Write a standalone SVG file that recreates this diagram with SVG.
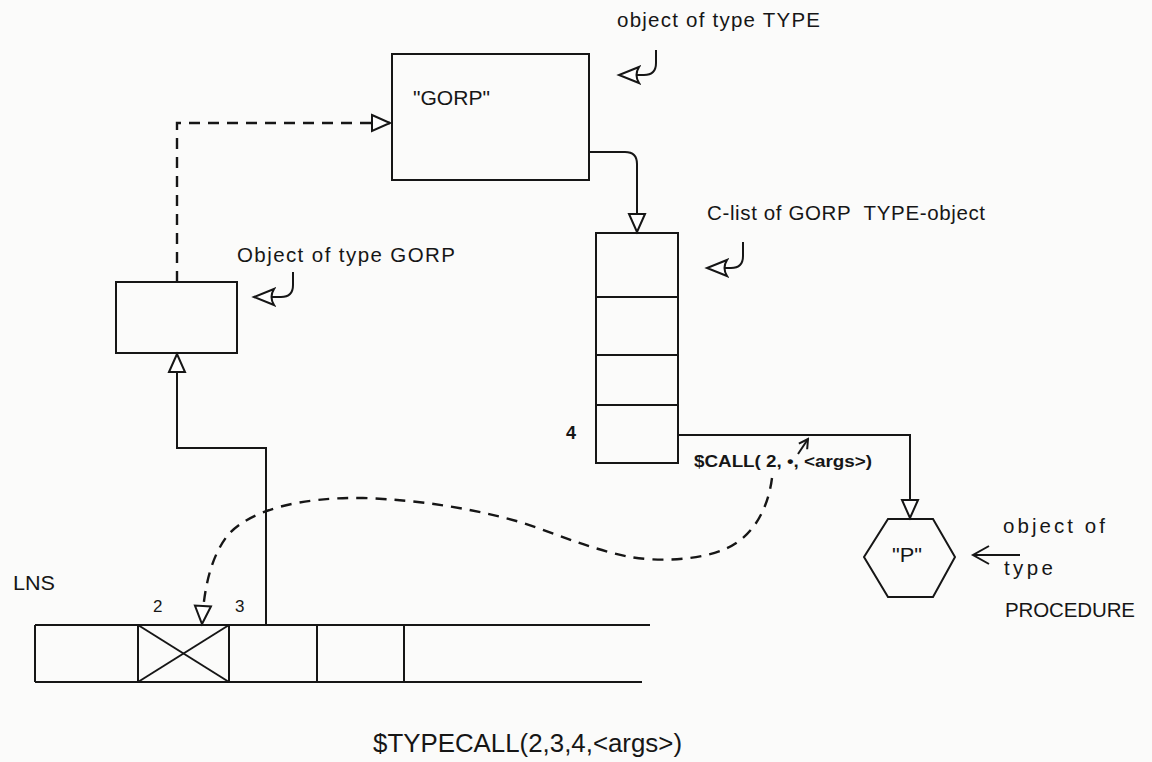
<svg xmlns="http://www.w3.org/2000/svg" width="1152" height="762" viewBox="0 0 1152 762">
  <style>
    .bg { fill: #fbfbfa; }
    .box { fill: none; stroke: #161616; stroke-width: 2; }
    .ln { fill: none; stroke: #161616; stroke-width: 2; }
    .dash { fill: none; stroke: #161616; stroke-width: 2.4; stroke-dasharray: 11 8; }
    .t { font-family: "Liberation Sans", Arial, sans-serif; fill: #161616; font-size: 20.5px; }
    .tb { font-family: "Liberation Sans", Arial, sans-serif; fill: #161616; font-size: 16px; font-weight: bold; }
  </style>
  <defs>
    <marker id="tri" markerUnits="userSpaceOnUse" markerWidth="24" markerHeight="24" viewBox="0 0 24 24" refX="20" refY="10" orient="auto">
      <path d="M2,2 L20,10 L2,18 Z" fill="#ffffff" stroke="#161616" stroke-width="2" stroke-dasharray="none" stroke-linejoin="miter"/>
    </marker>
    <marker id="trismall" markerUnits="userSpaceOnUse" markerWidth="26" markerHeight="26" viewBox="0 0 26 26" refX="22" refY="11" orient="auto">
      <path d="M2,3 L22,11 L2,19 Q7,11 2,3 Z" fill="#ffffff" stroke="#161616" stroke-width="2" stroke-dasharray="none"/>
    </marker>
    <marker id="vee" markerUnits="userSpaceOnUse" markerWidth="24" markerHeight="24" viewBox="0 0 24 24" refX="20" refY="12" orient="auto">
      <path d="M4,3 L20,12 L4,21" fill="none" stroke="#161616" stroke-width="2" stroke-dasharray="none"/>
    </marker>
    <marker id="veesmall" markerUnits="userSpaceOnUse" markerWidth="14" markerHeight="14" viewBox="0 0 14 14" refX="12" refY="7" orient="auto">
      <path d="M3,2 L12,7 L3,12" fill="none" stroke="#161616" stroke-width="2"/>
    </marker>
  </defs>

  <rect class="bg" x="0" y="0" width="1152" height="762"/>

  <!-- Object of type TYPE -->
  <g id="type-object">
    <rect class="box" x="392" y="54" width="197" height="126"/>
    <text class="t" x="413" y="105" textLength="77" lengthAdjust="spacingAndGlyphs" style="font-size:21px">"GORP"</text>
  </g>

  <!-- Object of type GORP -->
  <g id="gorp-object">
    <rect class="box" x="116" y="282" width="121" height="71"/>
  </g>

  <!-- C-list of GORP TYPE-object -->
  <g id="clist">
    <rect class="box" x="596" y="233" width="82" height="230"/>
    <line class="ln" x1="596" y1="297" x2="678" y2="297"/>
    <line class="ln" x1="596" y1="355" x2="678" y2="355"/>
    <line class="ln" x1="596" y1="405" x2="678" y2="405"/>
    <text class="tb" x="566" y="439" style="font-size:18px">4</text>
  </g>

  <!-- Procedure object -->
  <g id="proc">
    <polygon class="box" points="888,519 933,519 955,557 933,597 888,597 864,557"/>
    <text class="t" x="907" y="562" text-anchor="middle" textLength="30" lengthAdjust="spacingAndGlyphs">"P"</text>
  </g>

  <!-- LNS array -->
  <g id="lns">
    <text class="t" x="13" y="590" textLength="42" lengthAdjust="spacingAndGlyphs">LNS</text>
    <line class="ln" x1="35" y1="625" x2="650" y2="625"/>
    <line class="ln" x1="35" y1="682" x2="642" y2="682"/>
    <line class="ln" x1="35" y1="625" x2="35" y2="682"/>
    <line class="ln" x1="138" y1="625" x2="138" y2="682"/>
    <line class="ln" x1="229" y1="625" x2="229" y2="682"/>
    <line class="ln" x1="317" y1="625" x2="317" y2="682"/>
    <line class="ln" x1="404" y1="625" x2="404" y2="682"/>
    <line class="ln" x1="138" y1="625" x2="229" y2="682"/>
    <line class="ln" x1="229" y1="625" x2="138" y2="682"/>
    <text class="t" x="153" y="612" style="font-size:17px">2</text>
    <text class="t" x="235" y="612" style="font-size:17px">3</text>
  </g>

  <!-- Connectors -->
  <g id="connectors">
    <path class="dash" d="M177,282 V123 H390" marker-end="url(#tri)"/>
    <path class="ln" d="M589,152 H625 Q637,152 637,164 V232" marker-end="url(#tri)"/>
    <path class="ln" d="M266,625 V448 H177 V354" marker-end="url(#tri)"/>
    <path class="ln" d="M678,435 H910 V518" marker-end="url(#tri)"/>
    <path class="dash" d="M772,478 C768,510 752,538 725,549 C700,560 660,562 630,557 C590,549 560,535 520,522 C470,508 420,500 363,498 C300,497 250,510 228,535 C212,555 204,585 202,624" marker-end="url(#tri)"/>
    <path class="ln" d="M798,454 L808,439" marker-end="url(#veesmall)"/>
    <path class="ln" d="M656,50 V63 Q656,75 644,75 H619" marker-end="url(#trismall)"/>
    <path class="ln" d="M293,272 V285 Q293,297 281,297 H254" marker-end="url(#trismall)"/>
    <path class="ln" d="M743,242 V256 Q743,268 731,268 H707" marker-end="url(#trismall)"/>
    <path class="ln" d="M1020,555 H973" marker-end="url(#vee)"/>
  </g>

  <!-- Labels -->
  <g id="labels">
    <text class="t" x="617" y="27" textLength="203" lengthAdjust="spacing">object of type TYPE</text>
    <text class="t" x="707" y="220" textLength="278" lengthAdjust="spacing">C-list of GORP&#160; TYPE-object</text>
    <text class="t" x="237" y="262" textLength="218" lengthAdjust="spacing">Object of type GORP</text>
    <text class="tb" x="694" y="467" textLength="178" lengthAdjust="spacingAndGlyphs">$CALL( 2, •, &lt;args&gt;)</text>
    <text class="t" x="1003" y="533" textLength="102" lengthAdjust="spacing">object of</text>
    <text class="t" x="1004" y="575" textLength="49" lengthAdjust="spacing">type</text>
    <text class="t" x="1005" y="617" textLength="130" lengthAdjust="spacing">PROCEDURE</text>
    <text class="t" x="373" y="752" style="font-size:25px" textLength="309" lengthAdjust="spacingAndGlyphs">$TYPECALL(2,3,4,&lt;args&gt;)</text>
  </g>
</svg>
